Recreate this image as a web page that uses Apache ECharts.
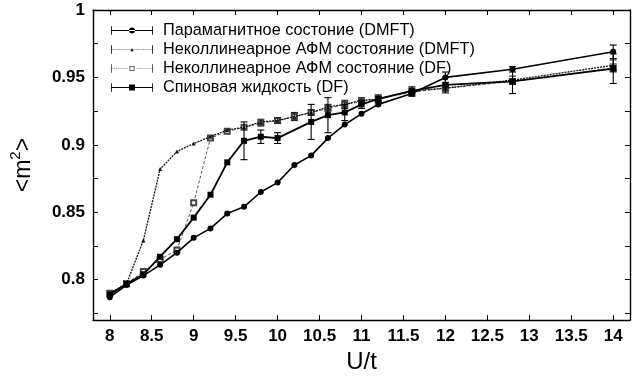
<!DOCTYPE html>
<html>
<head>
<meta charset="utf-8">
<script src="https://cdn.jsdelivr.net/npm/echarts@6/dist/echarts.min.js"></script>
<style>
  html, body { margin: 0; padding: 0; background: #fff; }
  #chart { width: 632px; height: 379px; }
</style>
</head>
<body>
<div id="chart"></div>
<script>
// Series labels
const seriesNames = [
  'Парамагнитное состоние (DMFT)',
  'Неколлинеарное АФМ состояние (DMFT)',
  'Неколлинеарное АФМ состояние (DF)',
  'Спиновая жидкость (DF)'
];

// Paramagnetic state, DMFT
const paraU   = [8.0, 8.2, 8.4, 8.6, 8.8, 9.0, 9.2, 9.4, 9.6, 9.8, 10.0, 10.2, 10.4, 10.6, 10.8, 11.0, 11.2, 11.6, 12.0, 12.8, 14.0];
const paraM   = [0.787, 0.796, 0.803, 0.811, 0.820, 0.831, 0.838, 0.849, 0.854, 0.865, 0.872, 0.885, 0.892, 0.905, 0.915, 0.923, 0.930, 0.938, 0.950, 0.956, 0.969];
const paraErr = [0, 0, 0, 0, 0, 0, 0, 0, 0, 0, 0, 0, 0, 0, 0, 0, 0, 0.002, 0.004, 0.002, 0.005];

// Non-collinear AFM state, DMFT
const afmDmftU   = [8.0, 8.2, 8.4, 8.6, 8.8, 9.0, 9.2, 9.4, 9.6, 9.8, 10.0, 10.2, 10.4, 10.6, 10.8, 11.0, 11.2, 11.6, 12.0, 12.8, 14.0];
const afmDmftM   = [0.790, 0.797, 0.829, 0.882, 0.895, 0.901, 0.906, 0.911, 0.913, 0.917, 0.918, 0.921, 0.924, 0.928, 0.930, 0.933, 0.934, 0.940, 0.942, 0.948, 0.959];
const afmDmftErr = [0, 0, 0, 0, 0, 0, 0, 0, 0, 0.002, 0.002, 0.003, 0.002, 0.002, 0.003, 0.002, 0.002, 0.002, 0.002, 0.003, 0.004];

// Non-collinear AFM state, DF
const afmDfU   = [8.0, 8.2, 8.4, 8.6, 8.8, 9.0, 9.2, 9.4, 9.6, 9.8, 10.0, 10.2, 10.4, 10.6, 10.8, 11.0, 11.2, 11.6, 12.0, 12.8, 14.0];
const afmDfM   = [0.790, 0.797, 0.806, 0.815, 0.822, 0.857, 0.905, 0.910, 0.913, 0.916, 0.918, 0.921, 0.924, 0.927, 0.930, 0.932, 0.934, 0.939, 0.942, 0.947, 0.957];
const afmDfErr = [0, 0, 0, 0, 0, 0, 0, 0, 0, 0, 0, 0, 0, 0, 0, 0, 0, 0, 0, 0, 0.003];

// Spin liquid, DF
const spinU   = [8.0, 8.2, 8.4, 8.6, 8.8, 9.0, 9.2, 9.4, 9.6, 9.8, 10.0, 10.4, 10.6, 10.8, 11.0, 11.2, 11.6, 12.0, 12.8, 14.0];
const spinM   = [0.789, 0.797, 0.804, 0.817, 0.830, 0.846, 0.863, 0.887, 0.903, 0.906, 0.905, 0.917, 0.922, 0.924, 0.930, 0.934, 0.940, 0.9445, 0.947, 0.9565];
const spinErr = [0, 0, 0, 0, 0, 0, 0, 0, 0.014, 0.005, 0.004, 0.013, 0.013, 0.006, 0.003, 0.003, 0.003, 0.006, 0.009, 0.011];

// Axis ticks
const xTicks = [8, 8.5, 9, 9.5, 10, 10.5, 11, 11.5, 12, 12.5, 13, 13.5, 14];
const yLabels = [0.8, 0.85, 0.9, 0.95, 1];
const yTicks = [0.775, 0.8, 0.825, 0.85, 0.875, 0.9, 0.925, 0.95, 0.975, 1];

const FONT = '"Liberation Sans", Arial, Helvetica, sans-serif';

function pairs(xs, ys) { return xs.map((x, i) => [x, ys[i]]); }

// Vertical error bars with caps, placed through the axis scales
function errorBars(name, xs, ys, errs, color) {
  const data = [];
  xs.forEach((x, i) => { if (errs[i] > 0) data.push([x, ys[i] - errs[i], ys[i] + errs[i]]); });
  return {
    type: 'custom', name: name, data: data, silent: true, z: 4,
    encode: { x: 0, y: [1, 2] },
    renderItem: function (params, api) {
      const x = api.value(0);
      const lo = api.coord([x, api.value(1)]);
      const hi = api.coord([x, api.value(2)]);
      const w = 3.5;
      const st = { stroke: color, lineWidth: 1.1 };
      return {
        type: 'group', children: [
          { type: 'line', shape: { x1: lo[0], y1: lo[1], x2: hi[0], y2: hi[1] }, style: st },
          { type: 'line', shape: { x1: lo[0] - w, y1: lo[1], x2: lo[0] + w, y2: lo[1] }, style: st },
          { type: 'line', shape: { x1: hi[0] - w, y1: hi[1], x2: hi[0] + w, y2: hi[1] }, style: st }
        ]
      };
    }
  };
}

// Legend glyphs: capped bar with a marker in the middle (100 x 20 box)
const caps = 'M0,0h2v20h-2z M98,0h2v20h-2z ';
function dashes(step, len, skipFrom, skipTo) {
  let p = '';
  for (let x = 2; x < 98; x += step) {
    if (x + len > skipFrom && x < skipTo) continue;
    p += 'M' + x + ',9.3h' + len + 'v1.4h-' + len + 'z ';
  }
  return p;
}
const iconPara = 'path://' + caps + 'M0,9h100v2h-100z M43,10a7,7 0 1,0 14,0a7,7 0 1,0 -14,0z';
const iconAfmDmft = 'path://' + caps + dashes(3, 1.6, 200, 200) + 'M46,14l4,-7l4,7z';
const iconAfmDf = 'path://' + caps + dashes(5, 3, 42, 58) + 'M44,4h12v12h-12z M46,6v8h8v-8z';
const iconSpin = 'path://' + caps + 'M0,9h100v2h-100z M43,3h14v14h-14z';

const chart = echarts.init(document.getElementById('chart'), null, { renderer: 'canvas' });

const axisCommon = {
  type: 'value',
  axisLine: { show: true, lineStyle: { color: '#000', width: 1.4 } },
  splitLine: { show: false },
  axisTick: { show: true, inside: true, length: 5, lineStyle: { color: '#000', width: 1 } }
};

const tickLabelStyle = { fontSize: 17, fontWeight: 'bold', fontFamily: FONT, color: '#000' };

chart.setOption({
  animation: false,
  backgroundColor: '#fff',
  grid: { left: 90, right: 2, top: 10, bottom: 51, containLabel: false },
  legend: {
    orient: 'vertical', left: 106, top: 16,
    itemWidth: 42, itemHeight: 9, itemGap: 0,
    selectedMode: false,
    itemStyle: { borderWidth: 0 },
    textStyle: { fontSize: 16.3, fontFamily: FONT, color: '#000', lineHeight: 19, padding: [0, 0, 0, 5] },
    data: [
      { name: seriesNames[0], icon: iconPara },
      { name: seriesNames[1], icon: iconAfmDmft },
      { name: seriesNames[2], icon: iconAfmDf },
      { name: seriesNames[3], icon: iconSpin }
    ]
  },
  xAxis: [
    Object.assign({}, axisCommon, {
      position: 'bottom', min: 7.8, max: 14.2,
      axisTick: Object.assign({}, axisCommon.axisTick, { customValues: xTicks }),
      axisLabel: Object.assign({ customValues: xTicks, margin: 8 }, tickLabelStyle),
      name: 'U/t', nameLocation: 'middle', nameGap: 29,
      nameTextStyle: { fontSize: 24, fontFamily: FONT, color: '#000' }
    }),
    Object.assign({}, axisCommon, {
      position: 'top', min: 7.8, max: 14.2,
      axisTick: Object.assign({}, axisCommon.axisTick, { customValues: xTicks }),
      axisLabel: { show: false }
    })
  ],
  yAxis: [
    Object.assign({}, axisCommon, {
      position: 'left', min: 0.77, max: 1.0,
      axisTick: Object.assign({}, axisCommon.axisTick, { customValues: yTicks }),
      axisLabel: Object.assign({ customValues: yLabels, margin: 8 }, tickLabelStyle),
      name: '{a|<m}{b|2}{a|>}', nameLocation: 'middle', nameGap: 58,
      nameTextStyle: {
        fontFamily: FONT, color: '#000',
        rich: {
          a: { fontSize: 23, fontFamily: FONT, color: '#000', lineHeight: 27, verticalAlign: 'bottom' },
          b: { fontSize: 15, fontFamily: FONT, color: '#000', lineHeight: 15, verticalAlign: 'top' }
        }
      }
    }),
    Object.assign({}, axisCommon, {
      position: 'right', min: 0.77, max: 1.0,
      axisTick: Object.assign({}, axisCommon.axisTick, { customValues: yTicks }),
      axisLabel: { show: false }
    })
  ],
  series: [
    {
      name: seriesNames[2], type: 'line', data: pairs(afmDfU, afmDfM), z: 2,
      symbol: 'emptyRect', symbolSize: 5, color: '#444',
      lineStyle: { color: '#555', width: 1, type: [3, 2] },
      itemStyle: { color: '#444', borderColor: '#444', borderWidth: 1 }
    },
    errorBars(seriesNames[2], afmDfU, afmDfM, afmDfErr, '#444'),
    {
      name: seriesNames[1], type: 'line', data: pairs(afmDmftU, afmDmftM), z: 3,
      symbol: 'triangle', symbolSize: 4, color: '#111',
      lineStyle: { color: '#111', width: 1.3, type: [2, 1] },
      itemStyle: { color: '#111' }
    },
    errorBars(seriesNames[1], afmDmftU, afmDmftM, afmDmftErr, '#222'),
    {
      name: seriesNames[0], type: 'line', data: pairs(paraU, paraM), z: 5,
      symbol: 'circle', symbolSize: 6, color: '#000',
      lineStyle: { color: '#000', width: 1.6 },
      itemStyle: { color: '#000' }
    },
    errorBars(seriesNames[0], paraU, paraM, paraErr, '#000'),
    {
      name: seriesNames[3], type: 'line', data: pairs(spinU, spinM), z: 6,
      symbol: 'rect', symbolSize: 6, color: '#000',
      lineStyle: { color: '#000', width: 1.8 },
      itemStyle: { color: '#000' }
    },
    errorBars(seriesNames[3], spinU, spinM, spinErr, '#000')
  ]
});
</script>
</body>
</html>
